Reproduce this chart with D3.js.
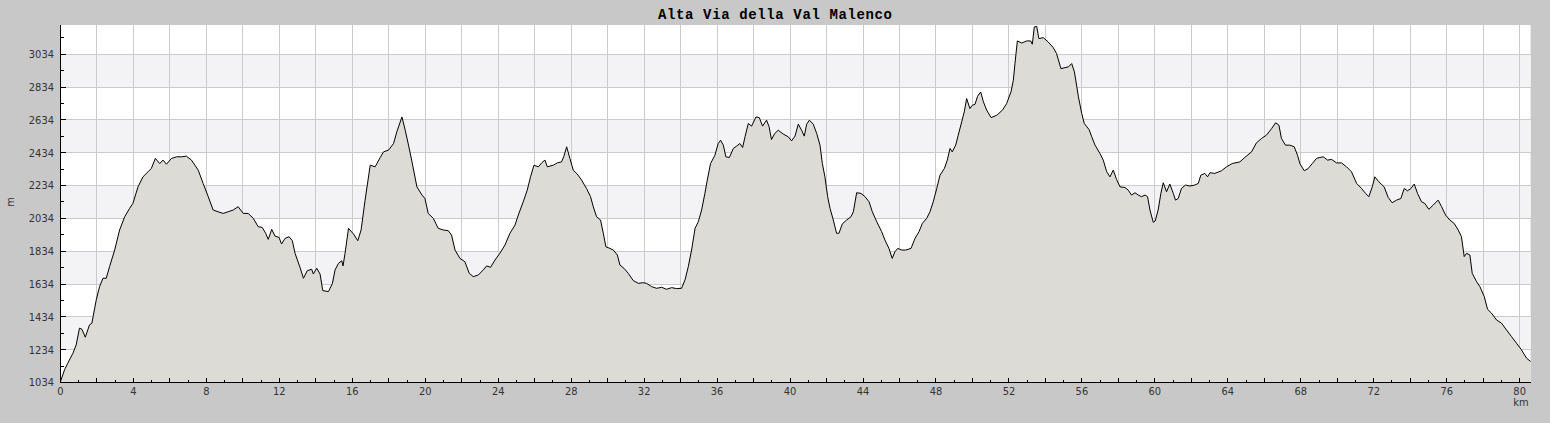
<!DOCTYPE html>
<html><head><meta charset="utf-8">
<script src="https://cdn.jsdelivr.net/npm/d3@7"></script>
<style>html,body{margin:0;padding:0;background:#c8c8c8;overflow:hidden}</style>
</head><body>
<svg id="chart" width="1550" height="423"></svg>
<script>
const chartTitle = "Alta Via della Val Malenco";
const xUnit = "km";
const yUnit = "m";
const xTickLabels = [0, 4, 8, 12, 16, 20, 24, 28, 32, 36, 40, 44, 48, 52, 56, 60, 64, 68, 72, 76, 80];
const yTickLabels = [1034, 1234, 1434, 1634, 1834, 2034, 2234, 2434, 2634, 2834, 3034];
const xDomain = [0, 80.6];
const yDomain = [1034, 3212];

// [distance km, elevation m]
const profilePoints = [
  [0,1040],[0.22,1111],[0.40,1152],[0.68,1212],[0.86,1263],[1.04,1365],[1.17,1359],[1.36,1310],[1.59,1385],[1.72,1395],
  [1.96,1537],[2.14,1618],[2.33,1669],[2.51,1669],[2.69,1740],[2.97,1841],[3.24,1963],[3.52,2044],[3.79,2095],[3.97,2125],
  [4.25,2226],[4.52,2287],[4.80,2318],[4.98,2338],[5.20,2399],[5.44,2368],[5.62,2389],[5.81,2364],[6.08,2399],[6.36,2409],
  [6.63,2409],[6.90,2413],[7.18,2389],[7.55,2328],[7.82,2247],[8.10,2166],[8.37,2085],[8.64,2074],[8.92,2064],[9.19,2074],
  [9.47,2085],[9.74,2105],[10.02,2064],[10.29,2064],[10.57,2034],[10.84,1983],[11.06,1979],[11.25,1943],[11.39,1906],[11.58,1967],
  [11.76,1926],[11.98,1918],[12.12,1878],[12.31,1912],[12.53,1922],[12.71,1898],[12.86,1821],[13.13,1736],[13.32,1669],[13.53,1715],
  [13.77,1724],[13.86,1695],[14.05,1730],[14.23,1695],[14.38,1594],[14.69,1588],[14.91,1638],[15.05,1719],[15.24,1760],[15.42,1776],
  [15.49,1744],[15.60,1821],[15.79,1973],[16.06,1939],[16.30,1898],[16.48,1963],[16.70,2145],[16.98,2358],[17.25,2348],[17.53,2405],
  [17.71,2439],[17.99,2450],[18.26,2490],[18.44,2561],[18.72,2652],[18.90,2571],[19.08,2480],[19.27,2379],[19.54,2226],[19.82,2176],
  [19.98,2155],[20.16,2064],[20.44,2034],[20.71,1973],[20.99,1963],[21.26,1959],[21.44,1932],[21.63,1841],[21.90,1790],[22.17,1770],
  [22.41,1699],[22.63,1679],[22.91,1689],[23.18,1720],[23.36,1744],[23.58,1736],[23.82,1780],[24.09,1821],[24.37,1872],[24.64,1943],
  [24.92,1993],[25.10,2054],[25.37,2135],[25.59,2206],[25.77,2287],[25.96,2358],[26.20,2348],[26.38,2372],[26.56,2389],[26.69,2348],
  [26.83,2352],[27.02,2358],[27.24,2372],[27.47,2378],[27.60,2413],[27.75,2470],[27.93,2399],[28.11,2328],[28.33,2304],[28.57,2267],
  [28.84,2216],[29.06,2166],[29.21,2105],[29.39,2044],[29.61,2024],[29.76,1943],[29.90,1861],[30.12,1851],[30.31,1841],[30.53,1811],
  [30.67,1750],[30.89,1730],[31.13,1699],[31.40,1655],[31.68,1638],[31.92,1642],[32.13,1638],[32.41,1618],[32.68,1608],[32.96,1614],
  [33.23,1602],[33.51,1612],[33.78,1606],[34.05,1608],[34.24,1659],[34.42,1740],[34.60,1841],[34.79,1973],[34.97,2014],[35.15,2085],
  [35.33,2186],[35.46,2267],[35.64,2368],[35.88,2419],[36.06,2490],[36.19,2510],[36.34,2480],[36.48,2409],[36.67,2405],[36.89,2460],
  [37.07,2474],[37.25,2490],[37.40,2466],[37.53,2531],[37.71,2612],[37.89,2596],[38.13,2652],[38.31,2648],[38.49,2596],[38.71,2632],
  [38.85,2592],[38.98,2514],[39.16,2551],[39.35,2571],[39.63,2547],[39.90,2531],[40.08,2506],[40.27,2535],
  [40.45,2608],[40.63,2571],[40.78,2535],[40.91,2608],[41.06,2632],[41.27,2608],[41.46,2551],[41.64,2480],[41.77,2368],[41.91,2287],
  [42.06,2166],[42.19,2095],[42.37,2024],[42.55,1943],[42.68,1943],[42.86,2000],[43.10,2024],[43.34,2044],[43.47,2074],[43.65,2190],
  [43.89,2186],[44.11,2166],[44.33,2135],[44.51,2074],[44.75,2014],[45.02,1953],[45.20,1902],[45.42,1851],[45.60,1790],[45.75,1831],
  [45.90,1851],[46.12,1841],[46.34,1841],[46.63,1851],[46.85,1912],[47.07,1953],[47.25,2003],[47.49,2034],[47.67,2074],[47.85,2135],
  [48.04,2216],[48.22,2297],[48.46,2338],[48.62,2389],[48.77,2460],[48.89,2439],[49.08,2480],[49.22,2541],[49.41,2622],[49.55,2683],
  [49.68,2764],[49.86,2703],[49.99,2723],[50.14,2729],[50.28,2778],[50.45,2804],[50.60,2744],[50.78,2693],[51.02,2648],[51.33,2662],
  [51.64,2693],[51.87,2733],[52.11,2804],[52.24,2875],[52.33,2977],[52.46,3115],[52.70,3102],[52.97,3115],[53.19,3115],[53.28,3095],
  [53.39,3200],[53.52,3204],[53.64,3129],[53.88,3135],[54.15,3109],[54.43,3074],[54.61,3038],[54.85,2946],[55.07,2952],[55.26,2957],
  [55.44,2977],[55.59,2926],[55.81,2774],[55.99,2673],[56.13,2612],[56.39,2575],[56.54,2531],[56.72,2480],[56.99,2429],[57.17,2389],
  [57.36,2318],[57.54,2287],[57.72,2328],[57.90,2271],[58.09,2226],[58.36,2222],[58.54,2206],[58.72,2176],[58.91,2190],[59.09,2176],
  [59.27,2166],[59.46,2176],[59.60,2166],[59.73,2085],[59.91,2010],[60.02,2018],
  [60.18,2085],[60.33,2186],[60.46,2251],[60.64,2196],[60.82,2243],[61.01,2186],[61.13,2145],[61.28,2155],[61.46,2216],[61.68,2237],
  [61.92,2231],[62.19,2237],[62.38,2247],[62.52,2297],[62.74,2308],[62.89,2287],[63.02,2312],[63.29,2308],[63.65,2324],[63.93,2348],
  [64.24,2368],[64.66,2378],[64.93,2405],[65.30,2439],[65.57,2494],[65.85,2521],[66.12,2541],[66.40,2581],[66.62,2616],[66.80,2602],
  [66.94,2521],[67.16,2480],[67.40,2480],[67.64,2470],[67.82,2419],[67.95,2368],[68.19,2324],[68.41,2338],[68.63,2368],[68.86,2399],
  [69.05,2405],[69.23,2409],[69.47,2389],[69.69,2393],[69.96,2372],[70.23,2372],[70.51,2348],[70.78,2318],[71.06,2247],[71.33,2216],
  [71.55,2186],[71.73,2166],[71.92,2226],[72.06,2287],[72.28,2257],[72.57,2226],[72.79,2162],[73.01,2129],[73.25,2145],[73.49,2155],
  [73.67,2216],[73.85,2202],[74.04,2216],[74.22,2243],[74.40,2186],[74.62,2135],[74.80,2125],[75.02,2089],[75.26,2115],[75.53,2145],
  [75.72,2105],[75.94,2054],[76.17,2024],[76.41,2003],[76.63,1963],[76.81,1922],[76.96,1801],[77.09,1821],[77.27,1811],[77.40,1699],
  [77.64,1648],[77.82,1618],[78.06,1557],[78.24,1480],[78.46,1456],[78.73,1415],[79.01,1395],[79.28,1354],[79.55,1314],[79.83,1273],
  [80.10,1233],[80.38,1182],[80.60,1162]
];

const svg = d3.select("#chart");
const plotLeft = 60.5, plotRight = 1530.6, plotTop = 25, plotBottom = 382.5;
const x = d3.scaleLinear().domain(xDomain).range([plotLeft, plotRight]);
const y = d3.scaleLinear().domain(yDomain).range([plotBottom, plotTop]);
const snap = v => Math.floor(v) + 0.5;
const labelFont = "'DejaVu Sans Condensed', 'DejaVu Sans', sans-serif";

svg.append("rect").attr("width", 1550).attr("height", 423).attr("fill", "#c8c8c8");
svg.append("rect").attr("x", plotLeft).attr("y", plotTop)
  .attr("width", plotRight - plotLeft).attr("height", plotBottom - plotTop).attr("fill", "#ffffff");

// alternating bands
const bandStarts = yTickLabels.filter((v, i) => i % 2 === 1 && i < yTickLabels.length - 1);
svg.append("g").selectAll("rect").data(bandStarts).join("rect")
  .attr("x", plotLeft).attr("width", plotRight - plotLeft)
  .attr("y", d => y(d + 200)).attr("height", d => y(d) - y(d + 200))
  .attr("fill", "#f3f2f5");

// grid
const grid = svg.append("g").attr("stroke", "#cbcbcb").attr("stroke-width", 1).attr("shape-rendering", "crispEdges");
grid.selectAll("line.h").data(yTickLabels.slice(1)).join("line").attr("class", "h")
  .attr("x1", plotLeft).attr("x2", plotRight).attr("y1", d => snap(y(d))).attr("y2", d => snap(y(d)));
const vGrid = d3.range(2, 81, 2);
grid.selectAll("line.v").data(vGrid).join("line").attr("class", "v")
  .attr("y1", plotTop).attr("y2", plotBottom).attr("x1", d => snap(x(d))).attr("x2", d => snap(x(d)));

// area + line
const area = d3.area().x(d => x(d[0])).y0(y(yDomain[0])).y1(d => y(d[1]));
const line = d3.line().x(d => x(d[0])).y(d => y(d[1]));
svg.append("path").datum(profilePoints).attr("d", area).attr("fill", "#dcdbd6");
svg.append("path").datum(profilePoints).attr("d", line).attr("fill", "none")
  .attr("stroke", "#000").attr("stroke-width", 1);

// axes lines
const ax = svg.append("g").attr("stroke", "#000").attr("stroke-width", 1).attr("shape-rendering", "crispEdges");
ax.append("line").attr("x1", plotLeft).attr("x2", plotLeft).attr("y1", plotTop).attr("y2", plotBottom + 0.5);
ax.append("line").attr("x1", plotLeft - 0.5).attr("x2", plotRight).attr("y1", plotBottom).attr("y2", plotBottom);

// y ticks (inward)
const yMinor = yTickLabels.map(v => v + 100).filter(v => v < yDomain[1]);
ax.selectAll("line.ym").data(yTickLabels).join("line").attr("class", "ym")
  .attr("x1", plotLeft).attr("x2", plotLeft + 5).attr("y1", d => snap(y(d))).attr("y2", d => snap(y(d)));
ax.selectAll("line.yn").data(yMinor).join("line").attr("class", "yn")
  .attr("x1", plotLeft).attr("x2", plotLeft + 3).attr("y1", d => snap(y(d))).attr("y2", d => snap(y(d)));

// x ticks (inward)
const xMajor = d3.range(0, 81, 2);
const xMinor = d3.range(1, 81, 2);
ax.selectAll("line.xm").data(xMajor).join("line").attr("class", "xm")
  .attr("x1", d => snap(x(d))).attr("x2", d => snap(x(d))).attr("y1", plotBottom).attr("y2", plotBottom - 5);
ax.selectAll("line.xn").data(xMinor).join("line").attr("class", "xn")
  .attr("x1", d => snap(x(d))).attr("x2", d => snap(x(d))).attr("y1", plotBottom).attr("y2", plotBottom - 3);

// labels
svg.append("g").selectAll("text").data(yTickLabels).join("text")
  .attr("x", 54).attr("y", d => y(d)).attr("dy", "0.36em").attr("text-anchor", "end")
  .attr("font-family", labelFont).attr("font-size", 11).attr("fill", "#333")
  .text(d => d);
svg.append("g").selectAll("text").data(xTickLabels).join("text")
  .attr("x", d => x(d)).attr("y", 395).attr("text-anchor", "middle")
  .attr("font-family", labelFont).attr("font-size", 11).attr("fill", "#333")
  .text(d => d);
svg.append("text").attr("x", 1521).attr("y", 406).attr("text-anchor", "middle")
  .attr("font-family", labelFont).attr("font-size", 11).attr("fill", "#333").text(xUnit);
svg.append("text").attr("transform", "translate(14,202) rotate(-90)").attr("text-anchor", "middle")
  .attr("font-family", labelFont).attr("font-size", 11).attr("fill", "#333").text(yUnit);

svg.append("text").attr("x", 775).attr("y", 18.5).attr("text-anchor", "middle")
  .attr("font-family", "'Liberation Mono', 'DejaVu Sans Mono', monospace").attr("font-weight", "bold")
  .attr("font-size", 14).attr("textLength", 234).attr("lengthAdjust", "spacing")
  .attr("fill", "#000").text(chartTitle);
</script>
</body></html>
